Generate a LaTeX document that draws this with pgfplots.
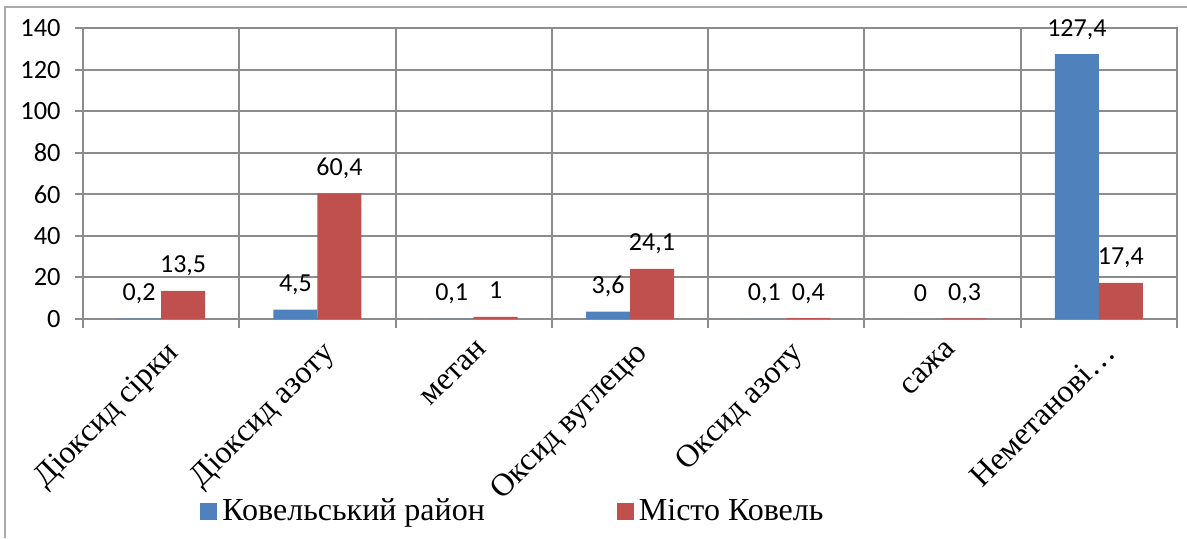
\documentclass[border=0pt]{standalone}
\usepackage{fontspec}
\setmainfont{Liberation Serif}
\newfontfamily\calibri{Carlito}
\usepackage{pgfplots}
\pgfplotsset{compat=1.18}
\definecolor{kblue}{RGB}{79,129,189}
\definecolor{kred}{RGB}{192,80,77}
\definecolor{gridc}{RGB}{140,140,140}
\definecolor{framec}{RGB}{170,170,170}
\begin{document}
\begin{tikzpicture}
\useasboundingbox (0,0) rectangle (593.5pt,269pt);
\draw[framec, line width=0.7pt] (2.5pt,0) -- (2.5pt,265.5pt) -- (593.5pt,265.5pt);
\begin{axis}[
  at={(41.5pt,109.5pt)}, anchor=south west,
  scale only axis, width=547pt, height=145.5pt,
  xmin=-0.5, xmax=6.5, ymin=0, ymax=140,
  ybar=0pt, bar width=22pt,
  xtick={0,...,6},
  xticklabels={Діоксид сірки, Діоксид азоту, метан, Оксид вуглецю, Оксид азоту, сажа, Неметанові…},
  minor xtick={-0.5,0.5,...,6.5},
  ytick={0,20,...,140},
  xminorgrids, ymajorgrids,
  grid style={gridc, line width=1pt},
  minor grid style={gridc, line width=1pt},
  axis line style={gridc, line width=1pt},
  tick style={gridc, line width=1pt},
  major x tick style={draw=none},
  tick align=outside, tick pos=left,
  major tick length=4pt, minor tick length=4.5pt,
  yticklabel style={font=\calibri\fontsize{13.2}{13.2}\selectfont, inner sep=0pt, xshift=-7pt},
  xticklabel style={font=\fontsize{16}{16}\selectfont, xshift=1.5pt, yshift=-6pt, rotate=45, anchor=north east, inner sep=0pt},
  nodes near coords,
  nodes near coords style={font=\calibri\fontsize{13}{13}\selectfont, anchor=base, inner sep=0pt, yshift=9pt, text=black},
  legend columns=2,
  legend style={at={(rel axis cs:0.107,-0.66)}, anchor=west, draw=none, fill=none, inner sep=0pt,
    font=\fontsize{16}{16}\selectfont, column sep=0pt, nodes={inner sep=0pt},
    /tikz/every even column/.append style={column sep=66pt}},
  /pgf/number format/use comma,
  /pgf/number format/fixed,
  /pgf/number format/precision=1,
  /pgf/number format/assume math mode=true,
]
\addplot[fill=kblue, draw=none, legend image code/.code={\fill[kblue] (0pt,-4.25pt) rectangle (8.5pt,4.25pt); \path (11pt,0pt);}]
  coordinates {(0,0.2) (1,4.5) (2,0.1) (3,3.6) (4,0.1) (5,0) (6,127.4)};
\addplot[fill=kred, draw=none, legend image code/.code={\fill[kred] (0pt,-4.25pt) rectangle (8.5pt,4.25pt); \path (11pt,0pt);}]
  coordinates {(0,13.5) (1,60.4) (2,1) (3,24.1) (4,0.4) (5,0.3) (6,17.4)};
\addlegendentry{Ковельський район}
\addlegendentry{Місто Ковель}
\end{axis}
\end{tikzpicture}
\end{document}
